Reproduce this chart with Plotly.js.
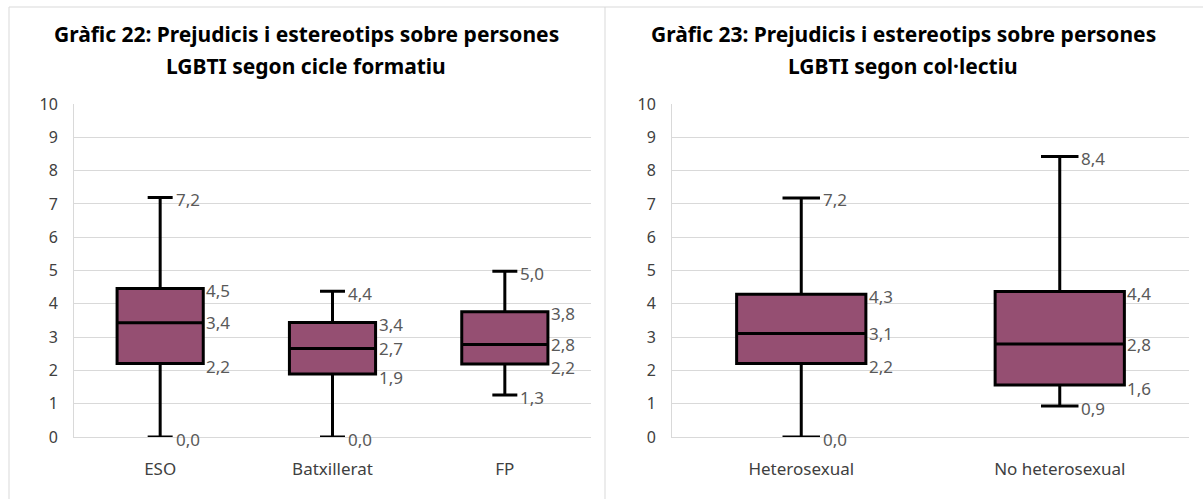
<!DOCTYPE html>
<html>
<head>
<meta charset="utf-8">
<script src="https://cdn.plot.ly/plotly-3.0.1.min.js"></script>
<style>html,body{margin:0;padding:0;background:#fff;}#chart{width:1203px;height:499px;}</style>
</head>
<body>
<div id="chart"></div>
<script>
// ---- Data ----
const title1Line1 = "Gràfic 22: Prejudicis i estereotips sobre persones";
const title1Line2 = "LGBTI segon cicle formatiu";
const title2Line1 = "Gràfic 23: Prejudicis i estereotips sobre persones";
const title2Line2 = "LGBTI segon col·lectiu";

const cats1 = ["ESO", "Batxillerat", "FP"];
const min1  = [0.00, 0.00, 1.26];
const q1_1  = [2.21, 1.89, 2.19];
const med1  = [3.43, 2.66, 2.78];
const q3_1  = [4.46, 3.44, 3.76];
const max1  = [7.19, 4.38, 4.98];

const cats2 = ["Heterosexual", "No heterosexual"];
const min2  = [0.00, 0.93];
const q1_2  = [2.21, 1.56];
const med2  = [3.11, 2.79];
const q3_2  = [4.29, 4.37];
const max2  = [7.18, 8.42];

const yTicks = [0,1,2,3,4,5,6,7,8,9,10];

// ---- Styling ----
const W = 1203, H = 499;
const FONT = "Noto Sans, Open Sans, sans-serif";
const BOX_FILL = "#954F72";
const WHISKER_W = 0.29;
const BOX_GAP = 0.5;
const fmt = v => v.toFixed(1).replace(".", ",");

function boxTrace(cats, mn, q1, med, q3, mx, xa, ya) {
  return {
    type: "box", x: cats, q1: q1, median: med, q3: q3,
    lowerfence: mn, upperfence: mx,
    xaxis: xa, yaxis: ya,
    boxpoints: false, fillcolor: BOX_FILL,
    line: {color: "#000000", width: 3},
    whiskerwidth: WHISKER_W, hoverinfo: "skip", showlegend: false
  };
}

function labels(cats, mn, q1, med, q3, mx, xref, yref) {
  const out = [];
  const half = (1 - BOX_GAP) / 2;
  cats.forEach((c, i) => {
    const boxEdge = i + half;
    const capEdge = i + half * WHISKER_W;
    [[q3[i], boxEdge, -2], [med[i], boxEdge, 0], [q1[i], boxEdge, -3], [mx[i], capEdge, -2], [mn[i], capEdge, -2]]
      .forEach(([v, xx, ys]) => {
        out.push({
          xref: xref, yref: yref, x: xx, y: v, text: fmt(v),
          showarrow: false, xanchor: "left", yanchor: "middle",
          xshift: 1, yshift: ys,
          font: {family: FONT, size: 17, color: "#595959"}
        });
      });
  });
  return out;
}

const data = [
  boxTrace(cats1, min1, q1_1, med1, q3_1, max1, "x", "y"),
  boxTrace(cats2, min2, q1_2, med2, q3_2, max2, "x2", "y2")
];

const yDom = [(H - 437) / H, (H - 104) / H];
const xAxisCommon = {
  type: "category", showgrid: false, zeroline: false,
  showline: true, linecolor: "#d9d9d9", linewidth: 1,
  ticks: "", ticklabelstandoff: 17,
  tickfont: {family: FONT, size: 17, color: "#404040"}, fixedrange: true
};
const yAxisCommon = {
  range: [0, 10], tickvals: yTicks, ticktext: yTicks.map(String),
  showgrid: true, gridcolor: "#d9d9d9", gridwidth: 1,
  zeroline: false, showline: true, linecolor: "#d9d9d9", linewidth: 1,
  ticks: "", ticklabelstandoff: 12,
  tickfont: {family: FONT, size: 16, color: "#404040"}, fixedrange: true,
  domain: yDom
};

const titleFont = {family: FONT, size: 21, color: "#000000", weight: "bold"};
function titleAnn(text, cx, py) {
  return {xref: "paper", yref: "paper", x: cx / W, y: 1 - py / H,
    text: "<b>" + text + "</b>", showarrow: false, xanchor: "center", yanchor: "middle",
    font: titleFont};
}

const annotations = [
  titleAnn(title1Line1, 306, 34), titleAnn(title1Line2, 306, 66),
  titleAnn(title2Line1, 903, 34), titleAnn(title2Line2, 903, 66),
  ...labels(cats1, min1, q1_1, med1, q3_1, max1, "x", "y"),
  ...labels(cats2, min2, q1_2, med2, q3_2, max2, "x2", "y2")
];

const borderLine = {color: "#d9d9d9", width: 1};
const shapes = [
  {type: "line", xref: "paper", yref: "paper", x0: 9 / W, x1: 1, y0: 1 - 7 / H, y1: 1 - 7 / H, line: borderLine, layer: "below"},
  {type: "line", xref: "paper", yref: "paper", x0: 9 / W, x1: 9 / W, y0: 0, y1: 1 - 7 / H, line: borderLine, layer: "below"},
  {type: "line", xref: "paper", yref: "paper", x0: 605 / W, x1: 605 / W, y0: 0, y1: 1 - 7 / H, line: borderLine, layer: "below"}
];

const layout = {
  width: W, height: H,
  margin: {l: 0, r: 0, t: 0, b: 0},
  paper_bgcolor: "#ffffff", plot_bgcolor: "#ffffff",
  boxgap: BOX_GAP, boxgroupgap: 0,
  showlegend: false,
  xaxis: Object.assign({}, xAxisCommon, {domain: [74 / W, 591 / W], anchor: "y", range: [-0.5, cats1.length - 0.5]}),
  yaxis: Object.assign({}, yAxisCommon, {anchor: "x"}),
  xaxis2: Object.assign({}, xAxisCommon, {domain: [672 / W, 1189 / W], anchor: "y2", range: [-0.5, cats2.length - 0.5]}),
  yaxis2: Object.assign({}, yAxisCommon, {anchor: "x2"}),
  annotations: annotations,
  shapes: shapes
};

Plotly.newPlot("chart", data, layout, {displayModeBar: false, staticPlot: true});
</script>
</body>
</html>
